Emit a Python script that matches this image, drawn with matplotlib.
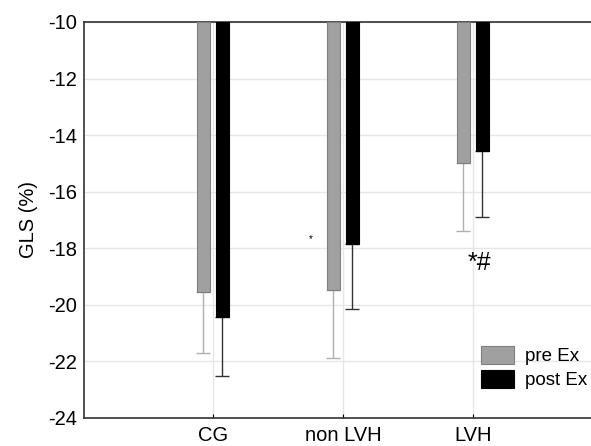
import numpy as np
import matplotlib.pyplot as plt

plt.rcParams['font.family'] = ['Liberation Sans', 'DejaVu Sans']
plt.rcParams['axes.unicode_minus'] = False

# data
groups = ["CG", "non LVH", "LVH"]
pre_ex = [-19.55, -19.47, -14.98]
post_ex = [-20.44, -17.84, -14.56]
pre_err = [2.16, 2.42, 2.42]
post_err = [2.07, 2.32, 2.32]
yticks = [-10, -12, -14, -16, -18, -20, -22, -24]

x = np.arange(len(groups))
w = 0.1
off = 0.073

fig = plt.figure(figsize=(5.91, 4.46), dpi=100)
ax = fig.add_axes([0.142, 0.0628, 0.858, 0.8879])

# bars hang down from -10
ax.bar(x - off, np.array(pre_ex) + 10, width=w, bottom=-10, color='#a0a0a0',
       edgecolor='#7f7f7f', linewidth=0.8, label='pre Ex', zorder=3)
ax.bar(x + off, np.array(post_ex) + 10, width=w, bottom=-10, color='black',
       edgecolor='black', linewidth=0.8, label='post Ex', zorder=3)

# error bars only downward
ax.errorbar(x - off, pre_ex, yerr=[pre_err, [0] * 3], fmt='none',
            ecolor='#b0b0b0', elinewidth=1, capsize=5, capthick=1, zorder=2)
ax.errorbar(x + off, post_ex, yerr=[post_err, [0] * 3], fmt='none',
            ecolor='#333333', elinewidth=1, capsize=5, capthick=1, zorder=2)

ax.set_ylim(-24, -10)
ax.set_xlim(-0.992, 2.908)
ax.set_yticks(yticks)
ax.set_xticks(x)
ax.set_xticklabels(groups)
ax.tick_params(axis='y', labelsize=14.5, length=0, pad=5)
ax.tick_params(axis='x', labelsize=14.5, direction='in', length=3, pad=6)
ax.grid(True, color='#e6e6e6', linewidth=1, zorder=0)
ax.set_axisbelow(True)
ax.set_ylabel("GLS (%)", fontsize=14.5, labelpad=7)

ax.spines['right'].set_visible(False)
for s in ['left', 'bottom', 'top']:
    ax.spines[s].set_color('#333333')
    ax.spines[s].set_linewidth(1.2)

# significance marks
ax.text(0.754, -17.67, "*", fontsize=7, ha='center', va='center')
ax.text(2.046, -18.52, "*#", fontsize=18, ha='center', va='center')

ax.legend(loc='lower right', bbox_to_anchor=(1.025, 0.03), frameon=False,
          fontsize=13.5, handlelength=1.75, handleheight=1.1, labelspacing=0.25,
          handletextpad=0.55)

fig.savefig("out.png", dpi=100)
